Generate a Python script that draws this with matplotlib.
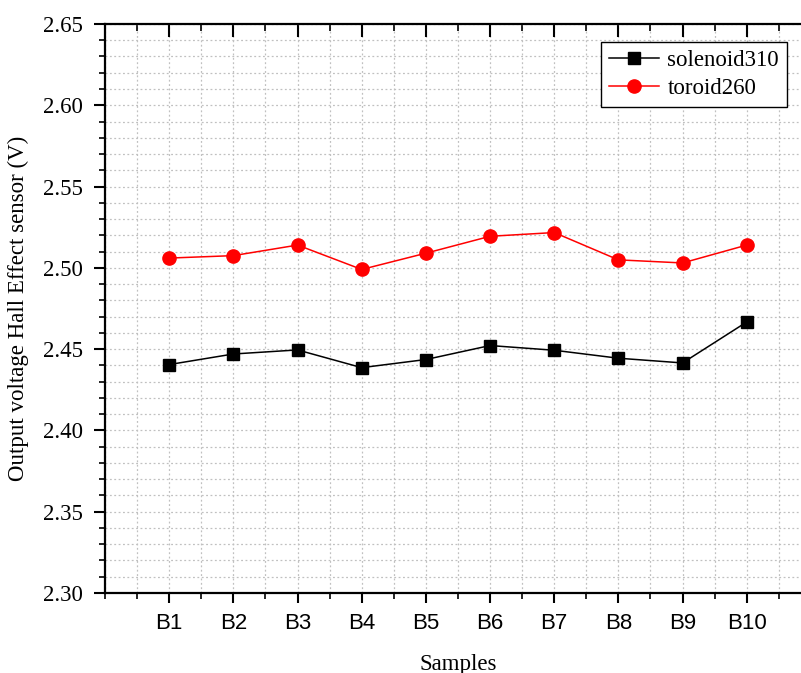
"""
Hall effect sensor output voltage per sample.
"""

import matplotlib.pyplot as plt
from matplotlib.ticker import MultipleLocator

samples = ["B1", "B2", "B3", "B4", "B5", "B6", "B7", "B8", "B9", "B10"]
solenoid310 = [2.4405, 2.447, 2.4495, 2.4386, 2.4436, 2.4522, 2.4493, 2.4444, 2.4415, 2.4667]
toroid260 = [2.506, 2.5075, 2.514, 2.499, 2.509, 2.5194, 2.5217, 2.5049, 2.503, 2.514]

serif = ["Liberation Serif", "DejaVu Serif"]
sans = ["Liberation Sans", "DejaVu Sans"]

fig = plt.figure(figsize=(8.01, 6.73), dpi=100)
ax = fig.add_axes([0.1311, 0.1189, 0.8813, 0.8455])

x = list(range(1, len(samples) + 1))
ax.plot(x, solenoid310, "-", color="black", lw=1.1, marker="s", ms=8.5,
        label="solenoid310", zorder=3)
ax.plot(x, toroid260, "-", color="red", lw=1.1, marker="o", ms=9.5,
        label="toroid260", zorder=3)

# axes limits and ticks
ax.set_xlim(0, 11)
ax.set_ylim(2.30, 2.65)
ax.set_xticks(x)
ax.set_xticklabels(samples, family=sans, fontsize=16)
ax.xaxis.set_minor_locator(MultipleLocator(0.5))
ax.yaxis.set_minor_locator(MultipleLocator(0.01))
ax.set_yticks([2.30 + 0.05 * i for i in range(8)])
ax.set_yticklabels([f"{2.30 + 0.05 * i:.2f}" for i in range(8)], family=serif, fontsize=16.5)

ax.tick_params(axis="y", which="major", direction="out", length=8, width=1.5, pad=8)
ax.tick_params(axis="y", which="minor", direction="out", length=4, width=1.2)
ax.tick_params(axis="x", which="major", direction="out", length=7.5, width=1.5, pad=7,
               top=True)
ax.tick_params(axis="x", which="minor", direction="out", length=4, width=1.2, top=True)
# top ticks point inward
for t in ax.xaxis.get_major_ticks():
    t.tick2line.set_markersize(9)
    t.tick2line.set_marker(3)
for t in ax.xaxis.get_minor_ticks():
    t.tick2line.set_markersize(5)
    t.tick2line.set_marker(3)

for s in ax.spines.values():
    s.set_linewidth(1.6)

# grid
ax.grid(which="both", color="#c0c0c0", linestyle=(0, (1.5, 2)), linewidth=0.9, zorder=0)
ax.set_axisbelow(True)

# labels
ax.set_xlabel("Samples", family=serif, fontsize=16.5, labelpad=14)
ax.set_ylabel("Output voltage Hall Effect sensor (V)", family=serif, fontsize=16.5,
              labelpad=10)

leg = ax.legend(loc="upper right", bbox_to_anchor=(0.9825, 0.9376),
                bbox_transform=fig.transFigure, fancybox=False, framealpha=1,
                edgecolor="black", prop={"family": serif, "size": 16.5},
                handlelength=2.2, borderpad=0.35, labelspacing=0.3,
                handletextpad=0.35, borderaxespad=0)
leg.get_frame().set_linewidth(1.0)

fig.savefig("out.png", dpi=100)
